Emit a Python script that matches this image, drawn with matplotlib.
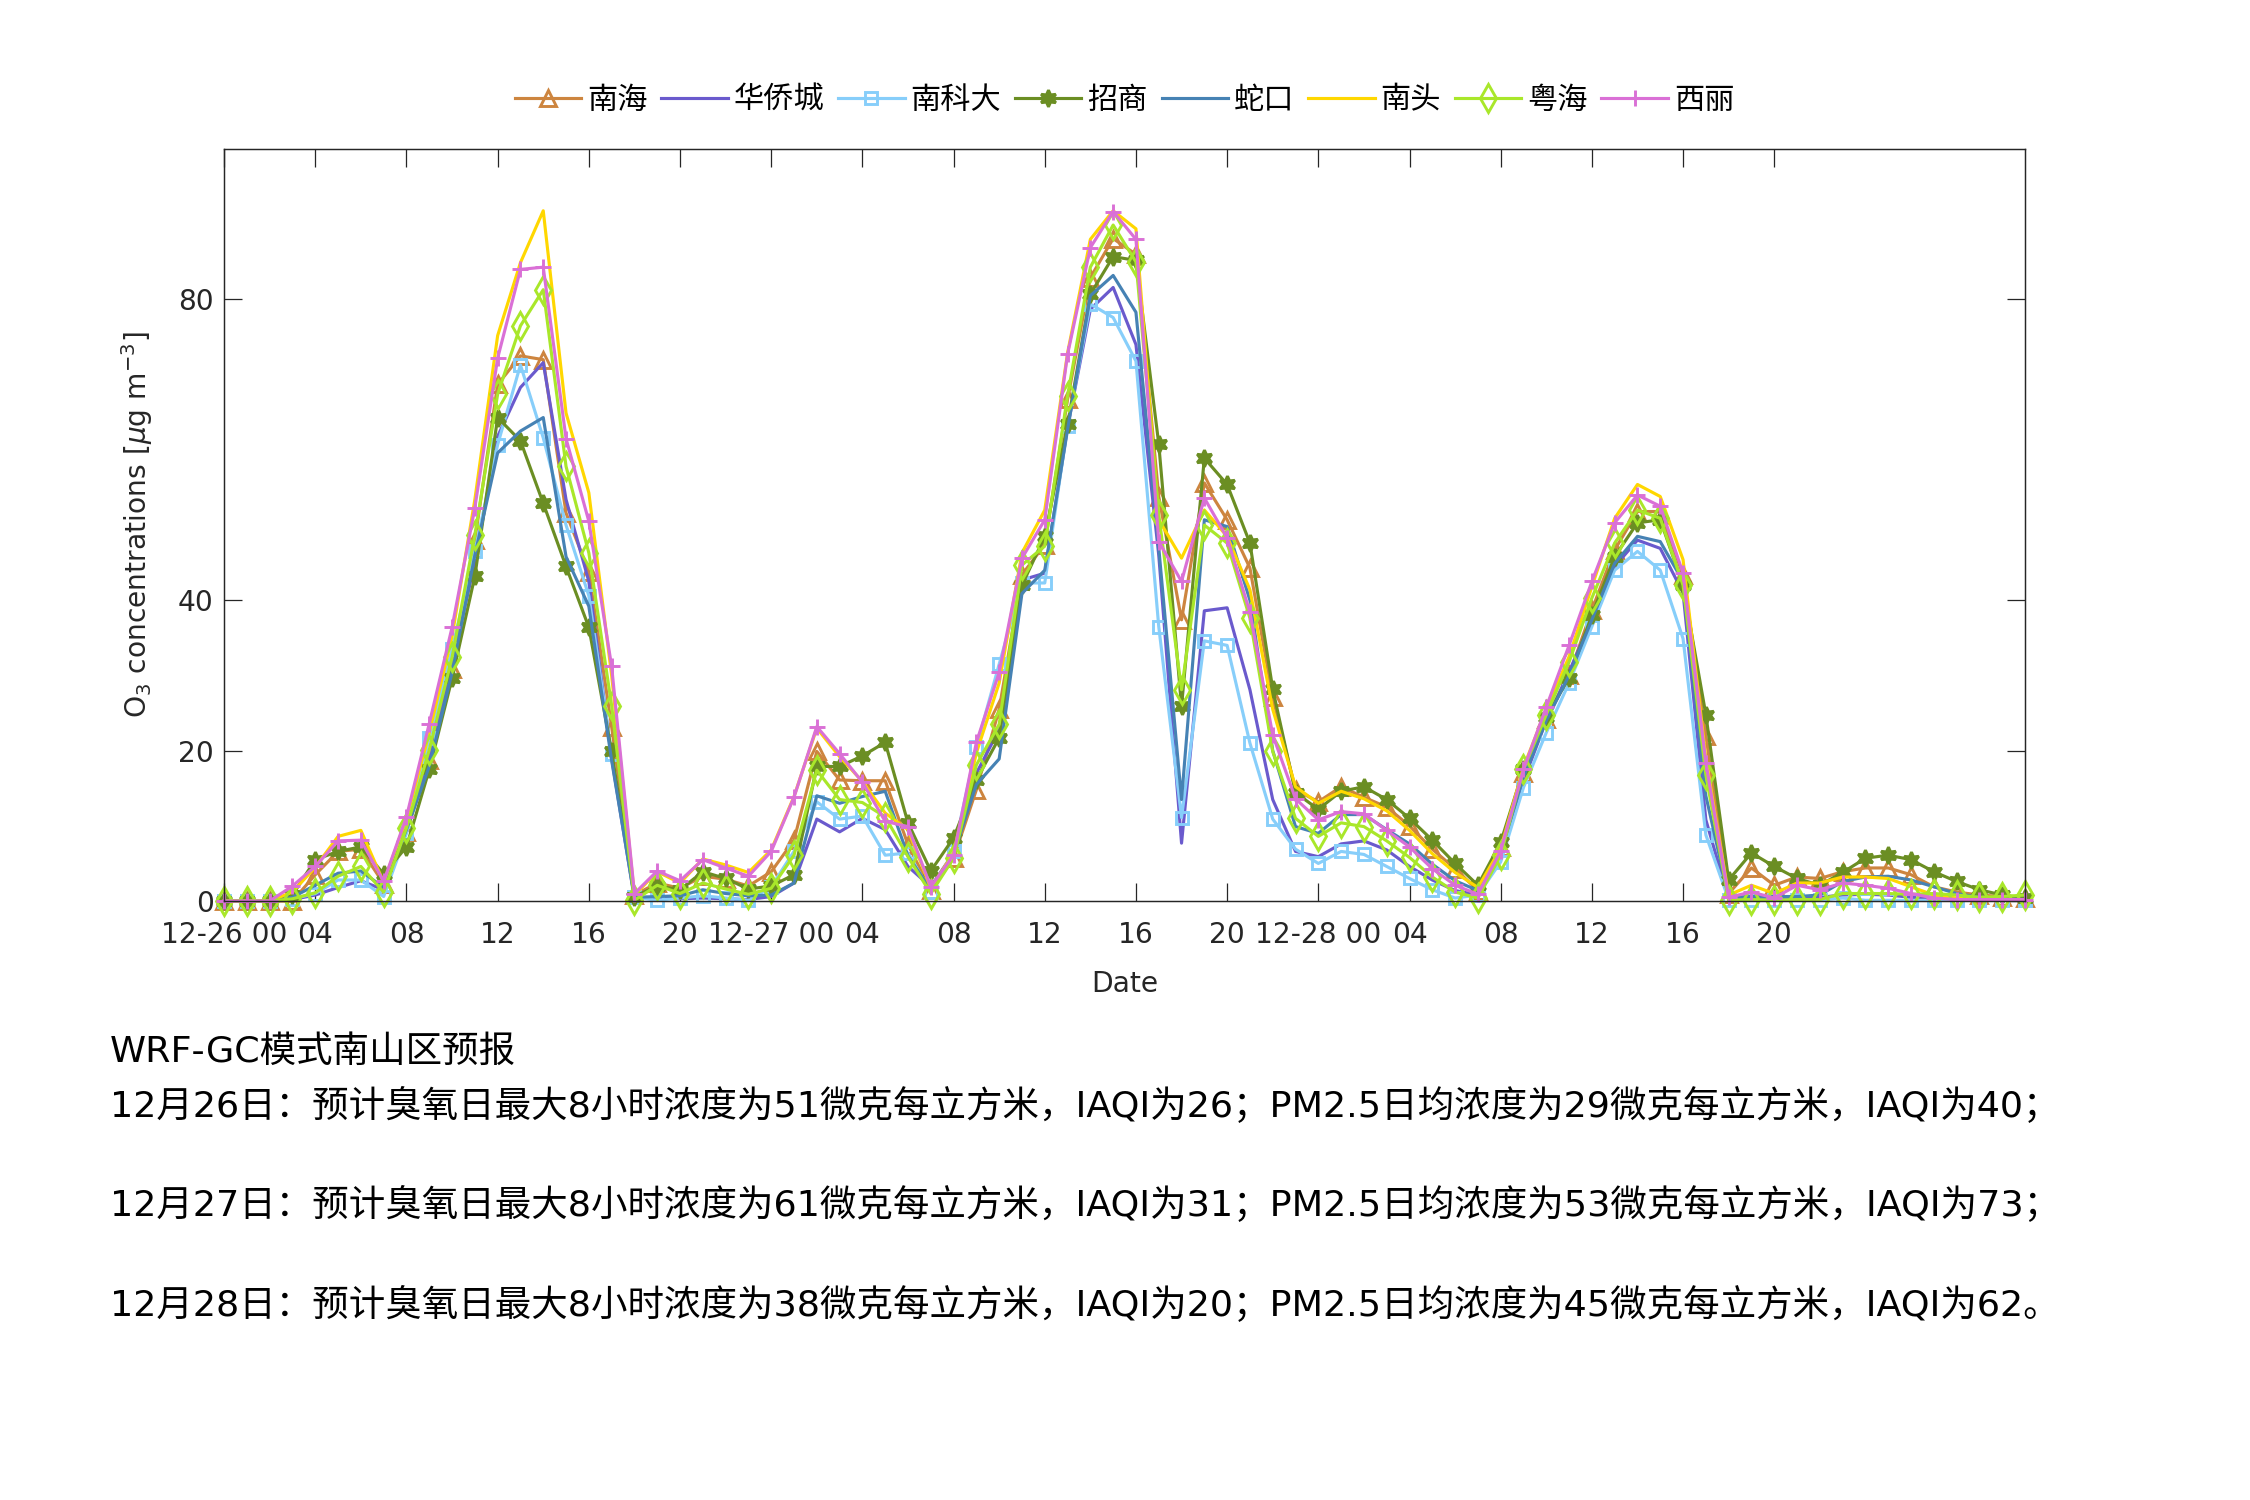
import numpy as np
import matplotlib.pyplot as plt

plt.rcParams['font.family'] = ['DejaVu Sans', 'Noto Sans CJK SC']
plt.rcParams['mathtext.fontset'] = 'dejavusans'

# Hourly forecast, 12-26 00 to 12-29 07
hours = np.arange(80)
tick_hours = np.arange(0, 69, 4)
tick_labels = ['12-26 00', '04', '08', '12', '16', '20',
               '12-27 00', '04', '08', '12', '16', '20',
               '12-28 00', '04', '08', '12', '16', '20']

stations = ['南海', '华侨城', '南科大', '招商', '蛇口', '南头', '粤海', '西丽']

nanhai = [0, 0, 0, 0, 3.5, 6.6, 6.9, 2.3, 9.2, 18.8,
          30.8, 48.0, 68.7, 72.5, 72.0, 51.6, 43.8, 23.2, 0.8, 2.4,
          1.7, 3.3, 2.9, 2.0, 3.9, 8.1, 19.9, 16.1, 16.0, 16.0,
          7.5, 1.5, 5.7, 14.8, 25.5, 43.4, 47.4, 66.7, 82.9, 88.1,
          86.0, 53.8, 37.4, 55.6, 50.7, 44.3, 27.1, 14.8, 13.2, 15.2,
          13.8, 12.5, 10.0, 6.9, 4.3, 1.4, 7.2, 17.0, 24.2, 30.0,
          38.7, 46.7, 51.8, 51.8, 43.4, 22.0, 1.0, 4.4, 2.1, 3.2,
          3.0, 3.9, 4.4, 4.4, 3.5, 1.9, 1.2, 0.8, 0.6, 0.4]
huaqiaocheng = [0, 0, 0, 0.2, 0.8, 1.8, 2.7, 1.5, 9.3, 19.2,
                31.7, 45.0, 61.8, 68.3, 71.6, 53.4, 42.5, 19.0, 0.3, 0.4,
                0.3, 0.4, 0.3, 0.2, 0.6, 2.4, 10.9, 9.2, 11.0, 9.5,
                4.6, 1.9, 6.4, 17.0, 22.8, 42.7, 43.6, 63.0, 78.7, 81.6,
                74.0, 46.0, 7.7, 38.6, 39.0, 28.1, 13.5, 6.6, 5.9, 7.6,
                8.0, 6.8, 4.6, 2.8, 1.4, 0.8, 6.5, 16.0, 24.0, 30.5,
                37.5, 44.5, 48.0, 46.9, 41.0, 10.8, 0.3, 0.5, 0.4, 0.5,
                0.5, 0.8, 0.9, 0.8, 0.5, 0.3, 0.2, 0.2, 0.2, 0.2]
nankeda = [0, 0, 0, 0.3, 1.0, 2.8, 2.8, 0.6, 9.0, 21.7,
           33.5, 46.5, 60.7, 71.3, 61.6, 50.0, 40.6, 19.5, 0.5, 0.1,
           0.4, 0.7, 0.4, 0.1, 1.9, 6.6, 13.2, 10.9, 11.3, 6.1,
           6.4, 1.2, 6.6, 20.5, 31.5, 42.3, 42.3, 63.2, 79.4, 77.6,
           71.8, 36.5, 11.1, 34.6, 34.0, 21.0, 10.9, 6.9, 5.0, 6.6,
           6.2, 4.6, 3.0, 1.5, 0.4, 0.8, 5.2, 15.1, 22.4, 29.0,
           36.5, 44.0, 46.5, 44.0, 34.9, 8.8, 0.2, 0.1, 0.1, 0.1,
           0.1, 0.4, 0.1, 0.1, 0.1, 0.1, 0.1, 0.1, 0.1, 0.1]
zhaoshang = [0, 0, 0, 0.8, 5.5, 6.6, 7.2, 3.6, 7.2, 17.5,
             29.6, 43.2, 64.3, 61.2, 52.9, 44.5, 36.4, 19.9, 0.6, 2.0,
             1.5, 3.9, 3.0, 1.6, 2.0, 3.5, 17.9, 17.9, 19.3, 21.1,
             10.4, 4.0, 8.4, 16.1, 21.7, 42.0, 48.5, 63.4, 80.7, 85.7,
             85.2, 60.8, 25.9, 58.9, 55.4, 47.6, 28.2, 14.4, 12.2, 14.6,
             15.2, 13.5, 11.0, 8.1, 5.0, 2.1, 7.8, 17.5, 24.5, 29.7,
             38.0, 45.8, 50.3, 50.7, 42.0, 24.8, 2.8, 6.4, 4.6, 3.0,
             2.1, 3.8, 5.7, 6.1, 5.5, 3.9, 2.6, 1.5, 0.8, 0.4]
shekou = [0, 0, 0, 0.5, 2.1, 3.7, 4.0, 1.8, 9.5, 17.9,
          30.4, 46.0, 59.6, 62.5, 64.3, 45.8, 39.2, 18.7, 0.5, 0.6,
          0.7, 1.5, 1.0, 0.7, 0.8, 2.4, 14.0, 13.0, 13.9, 14.6,
          6.0, 1.5, 6.2, 15.5, 18.9, 40.9, 44.0, 62.7, 80.5, 83.2,
          78.3, 47.0, 13.5, 50.7, 49.8, 40.0, 20.0, 9.9, 9.0, 11.5,
          11.5, 9.5, 7.6, 4.9, 2.7, 1.4, 6.5, 16.5, 24.0, 30.0,
          37.4, 44.9, 48.5, 47.8, 42.5, 14.0, 0.5, 0.6, 0.6, 0.6,
          0.8, 2.6, 3.2, 3.3, 2.8, 1.9, 1.0, 0.5, 0.3, 0.2]
nantou = [0, 0, 0, 1.2, 4.5, 8.6, 9.4, 2.5, 10.9, 22.4,
          35.2, 53.4, 75.2, 84.9, 91.8, 64.9, 54.3, 30.0, 0.8, 3.9,
          2.4, 5.6, 4.8, 3.8, 6.8, 13.9, 23.0, 19.2, 15.9, 11.7,
          9.5, 1.7, 6.4, 19.7, 29.0, 46.3, 52.0, 72.9, 88.0, 91.8,
          89.4, 50.7, 45.6, 52.0, 48.5, 41.4, 25.5, 15.2, 13.0, 14.6,
          13.6, 12.0, 9.4, 6.3, 3.8, 1.8, 7.0, 17.8, 25.5, 32.5,
          41.8, 50.9, 55.4, 53.8, 45.4, 19.0, 0.8, 2.1, 1.0, 2.4,
          2.4, 3.2, 3.2, 3.0, 1.9, 0.8, 0.4, 0.3, 0.2, 0.2]
yuehai = [0, 0, 0, 0.3, 1.1, 3.3, 4.6, 1.2, 9.7, 20.1,
          32.4, 48.7, 67.4, 76.5, 81.3, 57.8, 46.3, 26.0, 0.1, 2.1,
          1.0, 2.4, 1.6, 0.9, 1.7, 6.1, 17.4, 13.5, 13.1, 11.2,
          5.9, 1.0, 5.7, 18.1, 23.5, 44.7, 47.2, 67.2, 84.3, 89.9,
          85.0, 51.4, 28.1, 50.0, 47.6, 37.6, 19.9, 11.0, 8.6, 10.4,
          9.9, 8.0, 5.8, 3.2, 1.2, 0.4, 6.1, 17.5, 24.8, 31.8,
          40.3, 47.6, 52.0, 50.9, 42.0, 16.8, 0.1, 0.2, 0.1, 0.2,
          0.2, 1.0, 1.0, 1.0, 0.9, 1.0, 0.8, 0.5, 0.6, 0.8]
xili = [0, 0, 0, 2.0, 4.6, 8.0, 8.1, 2.6, 11.2, 23.6,
        36.4, 52.3, 72.2, 84.0, 84.3, 61.5, 50.5, 31.2, 1.0, 4.0,
        2.7, 5.5, 4.4, 3.3, 6.6, 13.8, 23.2, 19.6, 15.8, 10.6,
        9.9, 1.9, 6.1, 21.1, 30.4, 45.6, 50.7, 72.7, 86.9, 91.7,
        88.0, 47.8, 42.5, 53.6, 48.3, 38.4, 22.1, 13.6, 10.8, 11.9,
        11.6, 9.4, 7.2, 4.3, 2.1, 0.9, 6.7, 17.5, 25.8, 34.0,
        42.5, 50.3, 54.0, 52.5, 43.6, 18.4, 0.5, 1.2, 0.4, 2.1,
        1.5, 2.4, 2.1, 1.7, 1.0, 0.4, 0.2, 0.2, 0.2, 0.2]

series = [nanhai, huaqiaocheng, nankeda, zhaoshang, shekou, nantou, yuehai, xili]

# colour, marker, marker size, marker face
styles = [
    ('#CD853F', '^', 8, 'none'),
    ('#6A5ACD', 'None', 0, 'none'),
    ('#87CEFA', 's', 5.5, 'none'),
    ('#6B8E23', (6, 1, 0), 8, '#6B8E23'),
    ('#4682B4', 'None', 0, 'none'),
    ('#FFD700', 'None', 0, 'none'),
    ('#A9E72A', 'd', 9.5, 'none'),
    ('#DA70D6', '+', 8, 'none'),
]

report = ['WRF-GC模式南山区预报',
          '12月26日：预计臭氧日最大8小时浓度为51微克每立方米，IAQI为26；PM2.5日均浓度为29微克每立方米，IAQI为40；',
          '12月27日：预计臭氧日最大8小时浓度为61微克每立方米，IAQI为31；PM2.5日均浓度为53微克每立方米，IAQI为73；',
          '12月28日：预计臭氧日最大8小时浓度为38微克每立方米，IAQI为20；PM2.5日均浓度为45微克每立方米，IAQI为62。']

fig = plt.figure(figsize=(15, 10), dpi=150)
ax = fig.add_axes([0.0996, 0.3993, 0.8004, 0.5013])

for name, vals, (c, m, ms, mfc) in zip(stations, series, styles):
    ax.plot(hours, vals, color=c, lw=1.5, marker=m, ms=ms, mfc=mfc, mec=c,
            mew=1.4, label=name, clip_on=False)

ax.set_xlim(hours[0], hours[-1])
ax.set_ylim(0, 100)
ax.set_xticks(tick_hours)
ax.set_xticklabels(tick_labels)
ax.set_yticks([0, 20, 40, 80])

dark = '#262626'
ax.tick_params(direction='in', length=8.6, width=0.6, top=True, right=True,
               labelsize=13.5, colors=dark)
ax.tick_params(axis='x', pad=9.5)
ax.tick_params(axis='y', pad=5)
for s in ax.spines.values():
    s.set_linewidth(0.7)
    s.set_color(dark)

ax.set_xlabel('Date', fontsize=13.5, color=dark, labelpad=10)
ax.set_ylabel('O$_3$ concentrations [$\\mu$g m$^{-3}$]', fontsize=13.5,
              color=dark, labelpad=11)

fig.legend(loc='center', bbox_to_anchor=(0.4998, 0.9333), ncol=8,
           frameon=False, fontsize=14.5, handlelength=2.2, handletextpad=0.2,
           columnspacing=0.45)

# Forecast text below the chart
for s, y in zip(report, [0.2987, 0.2633, 0.1967, 0.13]):
    fig.text(0.049, y, s, fontsize=17.5, ha='left', va='center')

fig.savefig('out.png', dpi=150)
